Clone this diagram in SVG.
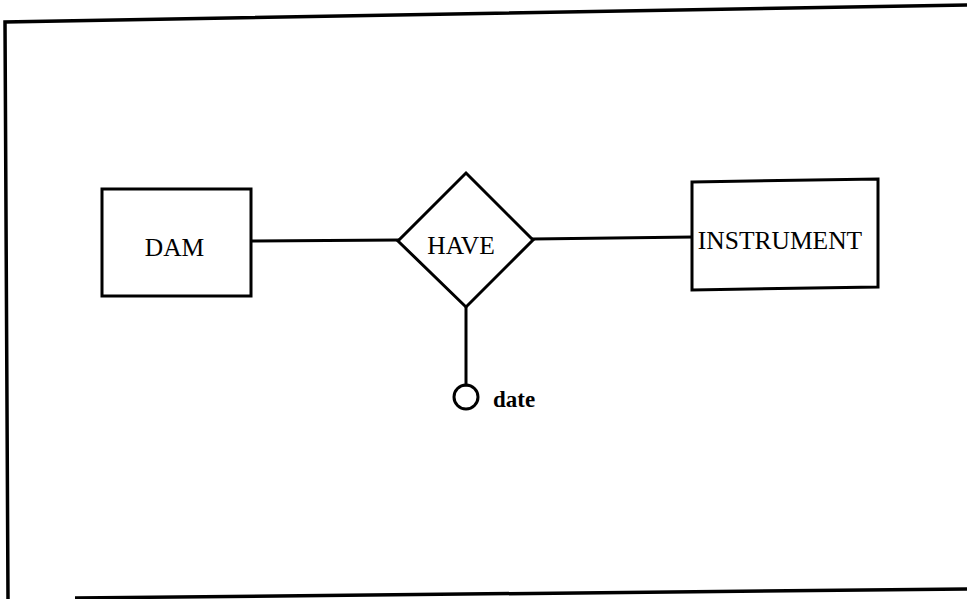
<svg xmlns="http://www.w3.org/2000/svg" width="967" height="599" viewBox="0 0 967 599">
<style>
.ln{fill:none;stroke:#000;stroke-width:3;stroke-linecap:square}
.shape{fill:#fff;stroke:#000;stroke-width:3;stroke-linejoin:miter}
.frame{fill:none;stroke:#000;stroke-width:3.5}
.lbl{font-family:"Liberation Serif","Times New Roman",serif;font-size:25.5px;fill:#000;text-anchor:middle}
.attr{font-family:"Liberation Serif","Times New Roman",serif;font-size:23px;font-weight:bold;fill:#000}
</style>
<rect width="967" height="599" fill="#fff"/>
<g id="frame">
<polyline class="frame" points="967,5 5,22 8,599"/>
<line class="frame" x1="75" y1="598" x2="967" y2="589"/>
</g>
<g id="connectors">
<line class="ln" x1="251" y1="241" x2="398" y2="240"/>
<line class="ln" x1="533" y1="239" x2="692" y2="237"/>
<line class="ln" x1="466" y1="307" x2="466" y2="385"/>
</g>
<g id="dam">
<rect class="shape" x="102" y="189" width="149" height="107"/>
<text class="lbl" x="174.5" y="256">DAM</text>
</g>
<g id="have">
<polygon class="shape" points="466,173 533,240 466,307 398,241"/>
<text class="lbl" x="461" y="254">HAVE</text>
</g>
<g id="instrument">
<polygon class="shape" points="692,182 878,179 878,287 692,290"/>
<text class="lbl" x="780" y="249">INSTRUMENT</text>
</g>
<g id="date">
<circle class="ln" cx="466" cy="397" r="12"/>
<text class="attr" x="493" y="407">date</text>
</g>
</svg>
